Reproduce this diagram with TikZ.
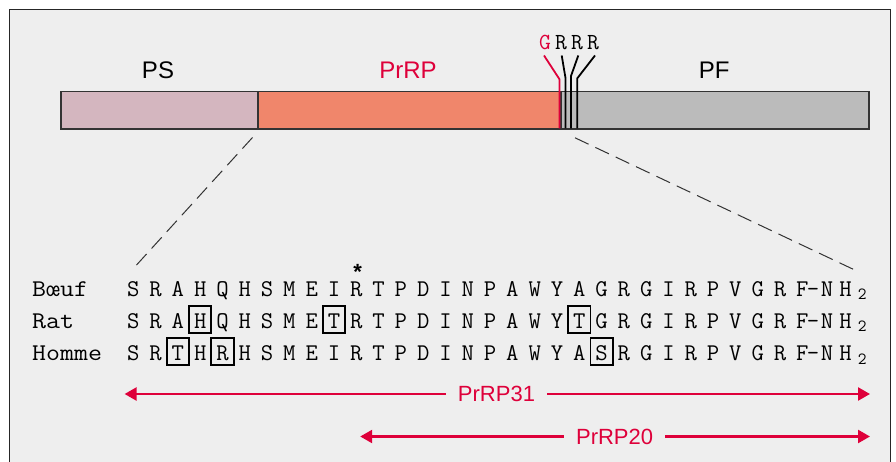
\documentclass[tikz,border=0pt]{standalone}
\usepackage{fontspec}
\setmainfont{Liberation Sans}
\usetikzlibrary{arrows.meta}
\definecolor{bg}{HTML}{EEEEEE}
\definecolor{psc}{HTML}{D4B6BF}
\definecolor{prc}{HTML}{F0866B}
\definecolor{pfc}{HTML}{BBBBBB}
\definecolor{redc}{RGB}{222,0,58}
\definecolor{edge}{HTML}{333333}
\newcommand{\widerow}[1]{\scalebox{1.13}[1]{#1}}
\begin{document}
\begin{tikzpicture}[x=1pt,y=-1pt,
  seg/.style={draw=edge,line width=1.8pt,minimum height=37.6pt,anchor=north west,inner sep=0pt},
  toplab/.style={font=\fontsize{24}{28}\selectfont,inner sep=0pt},
  res/.style={font=\ttfamily\fontsize{24}{28}\selectfont,anchor=base,inner sep=0pt},
  tres/.style={font=\ttfamily\fontsize{23}{26}\selectfont,anchor=base,inner sep=0pt},
  tick/.style={line width=1.8pt},
  dash line/.style={draw=black!80,line width=1pt,dash pattern=on 15pt off 7.5pt},
  rbox/.style={draw=black,line width=1.8pt,minimum width=22.3pt,minimum height=26.7pt,inner sep=0pt},
  plab/.style={font=\fontsize{22}{26}\selectfont,text=redc,inner xsep=12pt,inner ysep=0pt},
  arr/.style={draw=redc,line width=2.4pt,-{Triangle[length=12pt,width=13pt]}}]
\path[use as bounding box] (0,0) rectangle (896,462);
\clip (0,0) rectangle (896,462);
\draw[fill=bg,draw=black!85,line width=1.3pt] (9.7,9.7) rectangle (890.5,480);

% precursor bar
\node[seg,fill=pfc,minimum width=308.3pt] (pf) at (560,90.7) {};
\node[seg,fill=prc,minimum width=303pt] (pr) at (257,90.7) {};
\node[seg,fill=psc,minimum width=197pt] (ps) at (60,90.7) {};

\node[toplab] (pslab) at (158,70.5) {PS};
\node[toplab,text=redc] (prlab) at (408,70.5) {PrRP};
\node[toplab] (pflab) at (714.3,70.5) {PF};

% cleavage site
\node[tres,text=redc] (g) at (545,50) {G};
\node[tres] (r1) at (561,50) {R};
\node[tres] (r2) at (577,50) {R};
\node[tres] (r3) at (593,50) {R};
\draw[tick,redc] (g.south) ++(-1,5) -- (559.5,79.3) -- (559.5,128.3);
\draw[tick] (r1.south) ++(0.7,5) -- (565.5,78) -- (565.5,128.3);
\draw[tick] (r2.south) ++(1.3,5) -- (571,76) -- (571,128.3);
\draw[tick] (r3.south) ++(2,5) -- (577.3,78.3) -- (577.3,128.3);

% zoom lines
\coordinate (ls) at (135,266.7);
\coordinate (rs) at (853.3,269.3);
\draw[dash line] (ps.south east) ++(-6.3,7.4) -- (ls);
\draw[dash line] (pf.south west) ++(15,7.7) -- (rs);

% sequences
\node[res,anchor=base west] (lb) at (32,296) {\widerow{Bœuf}};
\node[res,anchor=base west] (lr) at (32,328.3) {\widerow{Rat}};
\node[res,anchor=base west] (lh) at (32,360.7) {\widerow{Homme}};

\foreach \r [count=\i from 0] in {S,R,A,H,Q,H,S,M,E,I,R,T,P,D,I,N,P,A,W,Y,A,G,R,G,I,R,P,V,G,R,F}
  \node[res] (b\i) at ({133.3+22.3*\i},296) {\r};
\foreach \r [count=\i from 0] in {S,R,A,H,Q,H,S,M,E,T,R,T,P,D,I,N,P,A,W,Y,T,G,R,G,I,R,P,V,G,R,F}
  \node[res] (t\i) at ({133.3+22.3*\i},328.3) {\r};
\foreach \r [count=\i from 0] in {S,R,T,H,R,H,S,M,E,I,R,T,P,D,I,N,P,A,W,Y,A,S,R,G,I,R,P,V,G,R,F}
  \node[res] (h\i) at ({133.3+22.3*\i},360.7) {\r};

\foreach \y/\p in {296/b,328.3/t,360.7/h}{
  \node[res] (\p dash) at (813,\y) {-};
  \node[res] (\p n) at (827,\y) {N};
  \node[res] (\p h) at (845.5,\y) {H};
  \node[res,font=\ttfamily\fontsize{17}{18}\selectfont] (\p two) at (862.3,\y+3.5) {2};
}

\node[font=\bfseries\fontsize{22}{24}\selectfont,anchor=base,inner sep=0pt] (star) at (357.7,279.5) {*};

\node[rbox] at ([yshift=9pt]t3.base) {};
\node[rbox] at ([yshift=9pt]t9.base) {};
\node[rbox] at ([yshift=9pt]t20.base) {};
\node[rbox] at ([yshift=9pt]h2.base) {};
\node[rbox] at ([yshift=9pt]h4.base) {};
\node[rbox] at ([yshift=9pt]h21.base) {};

% peptide extents
\coordinate (a31l) at (124.6,394);
\coordinate (a31r) at (870,394);
\node[plab] (p31) at (496.5,394) {PrRP31};
\draw[arr] (p31.west) -- (a31l);
\draw[arr] (p31.east) -- (a31r);
\coordinate (a20l) at (360.2,436.5);
\coordinate (a20r) at (870,436.5);
\node[plab] (p20) at (614.6,436.5) {PrRP20};
\draw[arr] (p20.west) -- (a20l);
\draw[arr] (p20.east) -- (a20r);
\end{tikzpicture}
\end{document}
